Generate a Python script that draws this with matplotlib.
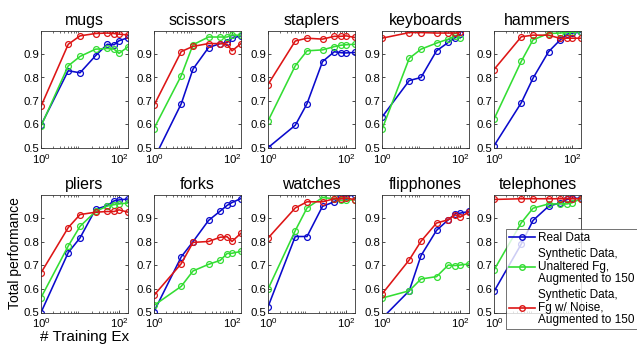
import numpy as np
import matplotlib
matplotlib.use("Agg")
import matplotlib.pyplot as plt
from matplotlib.lines import Line2D

plt.rcParams['font.family'] = ['Liberation Sans', 'DejaVu Sans']
plt.rcParams['mathtext.fontset'] = 'custom'
plt.rcParams['mathtext.rm'] = 'Liberation Sans'
plt.rcParams['mathtext.it'] = 'Liberation Sans'

# numero de ejemplos de entrenamiento
x = [1, 5, 10, 25, 50, 75, 100, 170]
nan = np.nan

objetos = ["mugs", "scissors", "staplers", "keyboards", "hammers",
           "pliers", "forks", "watches", "flipphones", "telephones"]

# Real Data
real = {
    "mugs":       [0.596, 0.829, 0.820, 0.893, 0.942, 0.940, 0.957, 0.970],
    "scissors":   [0.452, 0.688, 0.836, 0.928, 0.945, 0.950, 0.968, 0.978],
    "staplers":   [0.500, 0.596, 0.688, 0.868, 0.910, 0.906, 0.905, 0.907],
    "keyboards":  [0.631, 0.787, 0.800, 0.914, 0.950, 0.970, 0.985, nan],
    "hammers":    [0.508, 0.692, 0.797, 0.910, 0.961, 0.985, 0.990, 0.993],
    "pliers":     [0.500, 0.754, 0.816, 0.937, 0.953, 0.973, 0.977, 0.981],
    "forks":      [0.504, 0.736, 0.800, 0.890, 0.930, 0.954, 0.966, 0.983],
    "watches":    [0.524, 0.822, 0.822, 0.950, 0.969, 0.990, 0.994, 0.997],
    "flipphones": [0.475, 0.592, 0.741, 0.848, 0.893, 0.918, 0.921, 0.928],
    "telephones": [0.589, 0.790, 0.890, 0.950, 0.965, 0.979, 0.984, 0.984],
}

# Synthetic Data, Unaltered Fg
verde = {
    "mugs":       [0.592, 0.850, 0.890, 0.921, 0.924, 0.921, 0.903, 0.931],
    "scissors":   [0.582, 0.808, 0.940, 0.973, 0.973, 0.973, 0.982, 0.980],
    "staplers":   [0.614, 0.850, 0.914, 0.918, 0.932, 0.938, 0.940, 0.942],
    "keyboards":  [0.578, 0.882, 0.921, 0.947, 0.964, 0.978, 0.967, nan],
    "hammers":    [0.622, 0.869, 0.961, 0.988, 0.990, 0.993, 0.993, 0.996],
    "pliers":     [0.563, 0.782, 0.865, 0.928, 0.951, 0.957, 0.960, 0.964],
    "forks":      [0.530, 0.611, 0.676, 0.704, 0.721, 0.750, 0.751, 0.759],
    "watches":    [0.599, 0.847, 0.943, 0.987, 0.982, 0.975, 0.975, 0.978],
    "flipphones": [0.561, 0.592, 0.642, 0.652, 0.701, 0.699, 0.701, 0.706],
    "telephones": [0.680, 0.880, 0.942, 0.960, 0.960, 0.960, 0.965, 0.982],
}

# Synthetic Data, Fg w/ Noise
rojo = {
    "mugs":       [0.677, 0.942, 0.978, 0.988, 0.990, 0.988, 0.985, 0.982],
    "scissors":   [0.681, 0.911, 0.933, 0.945, 0.945, 0.942, 0.914, 0.945],
    "staplers":   [0.770, 0.956, 0.968, 0.964, 0.976, 0.976, 0.978, 0.971],
    "keyboards":  [0.968, 0.992, 0.992, 0.990, 0.990, 0.990, 0.993, nan],
    "hammers":    [0.834, 0.974, 0.981, 0.981, 0.967, 0.968, 0.968, 0.968],
    "pliers":     [0.668, 0.860, 0.915, 0.925, 0.928, 0.928, 0.935, 0.925],
    "forks":      [0.573, 0.707, 0.797, 0.801, 0.819, 0.821, 0.801, 0.836],
    "watches":    [0.815, 0.943, 0.969, 0.969, 0.982, 0.982, 0.985, 0.978],
    "flipphones": [0.578, 0.723, 0.802, 0.879, 0.893, 0.914, 0.904, 0.926],
    "telephones": [0.979, 0.982, 0.982, 0.982, 0.982, 0.982, 0.982, 0.982],
}

c_azul = "#0a0acc"
c_verde = "#33dd33"
c_rojo = "#dd1515"

fig = plt.figure(figsize=(6.37, 3.48), dpi=100)

lefts = [41, 154, 268, 382, 494]
W, H = 637.0, 348.0
ancho = 87 / W
filas = [(1 - 147.7 / H, (147.7 - 30.7) / H), (1 - 312.5 / H, (312.5 - 194.5) / H)]

axes = []
for i, nombre in enumerate(objetos):
    fila = i // 5
    col = i % 5
    b, h = filas[fila]
    ax = fig.add_axes([lefts[col] / W, b, ancho, h])
    axes.append(ax)
    kw = dict(marker="o", mfc="none", ms=4.2, mew=0.9, lw=1.15)
    ax.plot(x, real[nombre], color=c_azul, **kw)
    ax.plot(x, verde[nombre], color=c_verde, **kw)
    ax.plot(x, rojo[nombre], color=c_rojo, **kw)
    ax.set_xscale("log")
    ax.set_xlim(1, 170)
    ax.set_ylim(0.5, 1.0)
    ax.set_xticks([1, 100])
    ax.set_xticklabels([r"$10^0$", r"$10^2$"])
    ax.set_yticks([0.5, 0.6, 0.7, 0.8, 0.9])
    ax.set_yticklabels(["0.5", "0.6", "0.7", "0.8", "0.9"])
    ax.tick_params(direction="in", labelsize=8.2, length=2,
                   top=True, right=True, width=0.5)
    ax.tick_params(axis="x", pad=3)
    ax.tick_params(axis="y", pad=1.5)
    ax.tick_params(which="minor", direction="in", length=1.5, width=0.4,
                   top=True)
    for s in ax.spines.values():
        s.set_linewidth(0.6)
        s.set_color("#333333")
    ax.set_title(nombre, fontsize=11.5, pad=4)

# la leyenda tapa el 10^2 de telephones
axes[9].set_xticklabels([r"$10^0$", ""])

axes[5].set_ylabel("Total performance", fontsize=10, labelpad=1)
axes[5].set_xlabel("# Training Ex", fontsize=11, labelpad=0)

handles = [
    Line2D([], [], color=c_azul, marker="o", mfc="none", ms=4, lw=1.2),
    Line2D([], [], color=c_verde, marker="o", mfc="none", ms=4, lw=1.2),
    Line2D([], [], color=c_rojo, marker="o", mfc="none", ms=4, lw=1.2),
]
etiquetas = ["Real Data",
             "Synthetic Data,\nUnaltered Fg,\nAugmented to 150",
             "Synthetic Data,\nFg w/ Noise,\nAugmented to 150"]
leg = fig.legend(handles, etiquetas, loc="lower right",
                 bbox_to_anchor=(1.0, 1 - 329 / H), fontsize=8.5,
                 frameon=True, fancybox=False, handlelength=2.2,
                 handletextpad=0.2, borderpad=0.25, labelspacing=0.35,
                 borderaxespad=0.0)
for t in leg.get_texts():
    t.set_linespacing(1.05)
leg.get_frame().set_edgecolor("#333333")
leg.get_frame().set_linewidth(0.6)

fig.savefig("out.png", dpi=100)
